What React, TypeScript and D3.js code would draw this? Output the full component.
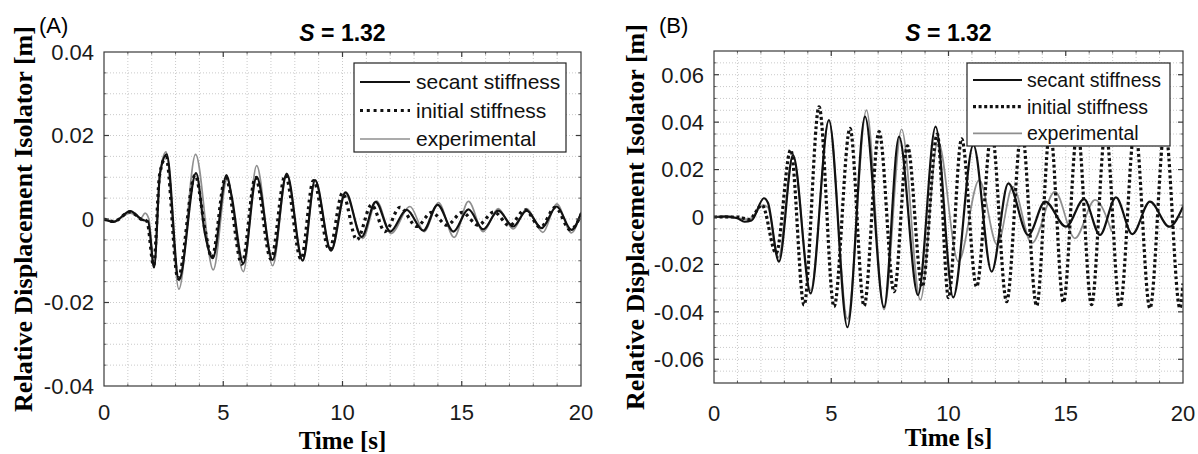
import React, { useEffect, useRef } from 'react';
import * as d3 from 'd3';

type Pt = [number, number];

const timeTicks = [0, 5, 10, 15, 20];
const yTicksA = [-0.04, -0.02, 0, 0.02, 0.04];
const yTickLabelsA = ['-0.04', '-0.02', '0', '0.02', '0.04'];
const yTicksB = [-0.06, -0.04, -0.02, 0, 0.02, 0.04, 0.06];
const yTickLabelsB = ['-0.06', '-0.04', '-0.02', '0', '0.02', '0.04', '0.06'];
const seriesNames = ['secant stiffness', 'initial stiffness', 'experimental'];

// (A) peaks / troughs, [time s, displacement m]
const secantA: Pt[] = [
  [0, 0], [0.4, -0.0007], [1.1, 0.0019], [1.6, -0.0002], [1.85, -0.0006], [2.1, -0.0116],
  [2.35, 0.011], [2.63, 0.0155], [3.14, -0.0146], [3.86, 0.011], [4.23, -0.0034], [4.56, -0.0094],
  [5.14, 0.0105], [5.35, 0.0055], [5.84, -0.0106], [6.4, 0.0101], [7.07, -0.0098], [7.66, 0.0109],
  [8.33, -0.01], [8.85, 0.0093], [9.52, -0.0076], [10.13, 0.0064], [10.8, -0.0043], [11.39, 0.0041],
  [12.0, -0.003], [12.69, 0.0022], [13.39, -0.0028], [13.99, 0.0034], [14.65, -0.003], [15.28, 0.0023],
  [15.9, -0.0025], [16.53, 0.002], [17.16, -0.0018], [17.72, 0.002], [18.35, -0.0022], [18.98, 0.003],
  [19.6, -0.0026], [20, 0.0014]
];
const initialA: Pt[] = [
  [0, 0], [0.4, -0.0006], [1.1, 0.0017], [1.6, -0.0002], [1.8, -0.0005], [2.08, -0.0112],
  [2.33, 0.0105], [2.6, 0.0148], [3.1, -0.0142], [3.82, 0.0105], [4.25, -0.003], [4.52, -0.0092],
  [5.1, 0.01], [5.78, -0.0108], [6.35, 0.0099], [7.0, -0.0096], [7.6, 0.0105], [8.26, -0.0096],
  [8.78, 0.0092], [9.45, -0.0074], [10.0, 0.0062], [10.6, -0.005], [11.22, 0.0034], [11.78, -0.003],
  [12.41, 0.0028], [13.11, -0.0018], [13.74, 0.0016], [14.38, -0.0015], [15.02, 0.0016], [15.68, -0.0015],
  [16.35, 0.0017], [17.0, -0.0016], [17.65, 0.0022], [18.3, -0.002], [18.92, 0.0028], [19.55, -0.0026],
  [20, 0.001]
];
const experimentalA: Pt[] = [
  [0, 0], [0.4, -0.0005], [1.1, 0.0014], [1.55, 0.0002], [1.72, 0.0014], [1.88, 0], [2.1, -0.011],
  [2.35, 0.011], [2.6, 0.0161], [3.14, -0.0168], [3.84, 0.0155], [4.58, -0.0122], [5.16, 0.0095],
  [5.84, -0.0126], [6.4, 0.0128], [7.07, -0.0112], [7.66, 0.0105], [8.33, -0.0098], [8.85, 0.0092],
  [9.52, -0.0076], [10.1, 0.0063], [10.85, -0.0046], [11.43, 0.0043], [12.03, -0.0035], [12.83, 0.003],
  [13.43, -0.003], [14.02, 0.0039], [14.68, -0.0044], [15.28, 0.0042], [15.9, -0.003], [16.53, 0.0025],
  [17.16, -0.0024], [17.72, 0.0025], [18.4, -0.0032], [18.98, 0.0036], [19.6, -0.0033], [20, 0.0017]
];

// (B)
const secantB: Pt[] = [
  [0, 0], [0.5, 0.0003], [1.0, -0.0005], [1.3, -0.002], [1.6, -0.0015], [2.13, 0.0079], [2.3, 0.006],
  [2.77, -0.0188], [3.37, 0.0261], [4.12, -0.0322], [4.9, 0.0409], [5.69, -0.0465], [6.44, 0.0423],
  [7.25, -0.0381], [7.89, 0.0339], [8.7, -0.0329], [9.45, 0.0381], [10.2, -0.0339], [11.06, 0.0304],
  [11.84, -0.023], [12.55, 0.0142], [13.4, -0.0076], [14.12, 0.0065], [15.01, -0.0041], [15.78, 0.0075],
  [16.46, -0.0076], [17.14, 0.0083], [17.84, -0.0072], [18.59, 0.0065], [19.42, -0.0041], [20, 0.0044]
];
const initialB: Pt[] = [
  [0, 0], [1.0, 0], [1.5, -0.001], [2.05, 0.005], [2.65, -0.0153], [3.27, 0.0283], [3.84, -0.0371],
  [4.48, 0.0465], [5.12, -0.0378], [5.8, 0.0374], [6.4, -0.0375], [7.04, 0.036], [7.68, -0.0315],
  [8.25, 0.03], [8.88, -0.0294], [9.52, 0.035], [10.0, -0.034], [10.56, 0.033], [11.2, -0.0294],
  [11.84, 0.036], [12.48, -0.0357], [13.12, 0.037], [13.76, -0.0375], [14.33, 0.037], [14.9, -0.036],
  [15.5, 0.037], [16.1, -0.037], [16.7, 0.037], [17.31, -0.038], [17.95, 0.038], [18.59, -0.0385],
  [19.23, 0.038], [19.87, -0.0385], [20, -0.028]
];
const experimentalB: Pt[] = [
  [0, 0], [1.0, -0.0005], [1.5, -0.001], [2.1, 0.005], [2.3, 0.004], [2.75, -0.017], [3.37, 0.0255],
  [4.12, -0.031], [4.9, 0.0405], [5.69, -0.043], [6.5, 0.0451], [7.25, -0.039], [8.0, 0.037],
  [8.8, -0.035], [9.55, 0.032], [10.42, -0.0188], [11.31, 0.0156], [12.08, -0.0118], [12.74, 0.0128],
  [13.55, -0.0111], [14.54, 0.0107], [15.39, -0.009], [16.25, 0.0072], [16.96, -0.0062]
];

interface LegendCfg {
  x: number; y: number; w: number; h: number;
  row0: number; row: number; font: number; lineLen: number; textGap: number;
}

interface PanelCfg {
  id: string;
  tag: string;
  tagX: number;
  left: number; right: number; top: number; bottom: number;
  yDomain: [number, number];
  yTicks: number[];
  yTickLabels: string[];
  yLabelX: number;
  xTickY: number;
  xLabelY: number;
  dotDash: string;
  legend: LegendCfg;
  secant: Pt[];
  initial: Pt[];
  experimental: Pt[];
}

const panels: PanelCfg[] = [
  {
    id: 'A', tag: '(A)', tagX: 39,
    left: 104, right: 581, top: 52, bottom: 386,
    yDomain: [-0.04, 0.04], yTicks: yTicksA, yTickLabels: yTickLabelsA,
    yLabelX: 23, xTickY: 420, xLabelY: 449, dotDash: '3 3.8',
    legend: { x: 354, y: 63, w: 212, h: 89, row0: 82, row: 28.5, font: 21, lineLen: 50, textGap: 62 },
    secant: secantA, initial: initialA, experimental: experimentalA
  },
  {
    id: 'B', tag: '(B)', tagX: 659,
    left: 714, right: 1183, top: 51, bottom: 383,
    yDomain: [-0.07, 0.07], yTicks: yTicksB, yTickLabels: yTickLabelsB,
    yLabelX: 635, xTickY: 421, xLabelY: 446, dotDash: '3 2.6',
    legend: { x: 967, y: 63, w: 203, h: 83, row0: 80, row: 26.7, font: 19.5, lineLen: 49, textGap: 60 },
    secant: secantB, initial: initialB, experimental: experimentalB
  }
];

const SANS = "'Liberation Sans', Arial, Helvetica, sans-serif";
const SERIF = "'Liberation Serif', 'Times New Roman', serif";

const drawPanel = (svg: d3.Selection<SVGSVGElement, unknown, null, undefined>, p: PanelCfg) => {
  const x = d3.scaleLinear().domain([0, 20]).range([p.left, p.right]);
  const y = d3.scaleLinear().domain(p.yDomain).range([p.bottom, p.top]);
  const g = svg.append('g');

  g.append('defs').append('clipPath').attr('id', `clip-${p.id}`)
    .append('rect')
    .attr('x', p.left).attr('y', p.top)
    .attr('width', p.right - p.left).attr('height', p.bottom - p.top);

  // grid, dotted like matlab
  const xGrid = d3.range(1, 20);
  const n0 = Math.round(p.yDomain[0] / 0.005);
  const n1 = Math.round(p.yDomain[1] / 0.005);
  const yGrid = d3.range(n0 + 1, n1).map((k) => k * 0.005);

  g.selectAll('.gx').data(xGrid).enter().append('line')
    .attr('x1', (d) => x(d)).attr('x2', (d) => x(d))
    .attr('y1', p.top).attr('y2', p.bottom)
    .attr('stroke', '#bdbdbd').attr('stroke-width', 0.8).attr('stroke-dasharray', '1 2');
  g.selectAll('.gy').data(yGrid).enter().append('line')
    .attr('y1', (d) => y(d)).attr('y2', (d) => y(d))
    .attr('x1', p.left).attr('x2', p.right)
    .attr('stroke', '#bdbdbd').attr('stroke-width', 0.8).attr('stroke-dasharray', '1 2');

  // curves
  const line = d3.line<Pt>()
    .x((d) => x(d[0]))
    .y((d) => y(d[1]))
    .curve(d3.curveMonotoneX);

  const lines = g.append('g').attr('clip-path', `url(#clip-${p.id})`);
  lines.append('path').attr('d', line(p.experimental))
    .attr('fill', 'none').attr('stroke', '#8f8f8f').attr('stroke-width', 1.7);
  lines.append('path').attr('d', line(p.secant))
    .attr('fill', 'none').attr('stroke', '#111').attr('stroke-width', 2.2);
  lines.append('path').attr('d', line(p.initial))
    .attr('fill', 'none').attr('stroke', '#111').attr('stroke-width', 3.2)
    .attr('stroke-dasharray', p.dotDash);

  // frame and ticks
  g.append('rect')
    .attr('x', p.left).attr('y', p.top)
    .attr('width', p.right - p.left).attr('height', p.bottom - p.top)
    .attr('fill', 'none').attr('stroke', '#3a3a3a').attr('stroke-width', 1.2);

  const tick = (x1: number, y1: number, x2: number, y2: number, w: number) =>
    g.append('line').attr('x1', x1).attr('y1', y1).attr('x2', x2).attr('y2', y2)
      .attr('stroke', '#3a3a3a').attr('stroke-width', w);

  xGrid.forEach((t) => {
    const major = t % 5 === 0;
    const len = major ? 5 : 2.5;
    tick(x(t), p.bottom, x(t), p.bottom - len, major ? 1.2 : 0.8);
    tick(x(t), p.top, x(t), p.top + len, major ? 1.2 : 0.8);
  });
  yGrid.forEach((v) => {
    const major = p.yTicks.some((m) => Math.abs(m - v) < 1e-9);
    const len = major ? 5 : 2.5;
    tick(p.left, y(v), p.left + len, y(v), major ? 1.2 : 0.8);
    tick(p.right, y(v), p.right - len, y(v), major ? 1.2 : 0.8);
  });

  // tick labels
  g.selectAll('.xt').data(timeTicks).enter().append('text')
    .attr('x', (d) => x(d)).attr('y', p.xTickY)
    .attr('text-anchor', 'middle')
    .attr('font-family', SANS).attr('font-size', 22).attr('fill', '#1a1a1a')
    .text((d) => d);
  g.selectAll('.yt').data(p.yTicks).enter().append('text')
    .attr('x', p.left - 10).attr('y', (d) => y(d))
    .attr('dy', '0.36em')
    .attr('text-anchor', 'end')
    .attr('font-family', SANS).attr('font-size', 22).attr('fill', '#1a1a1a')
    .text((_, i) => p.yTickLabels[i]);

  // axis titles
  g.append('text')
    .attr('x', (p.left + p.right) / 2).attr('y', p.xLabelY)
    .attr('text-anchor', 'middle')
    .attr('font-family', SERIF).attr('font-weight', 'bold').attr('font-size', 25)
    .text('Time [s]');
  const cy = (p.top + p.bottom) / 2;
  g.append('text')
    .attr('transform', `translate(${p.yLabelX},${cy}) rotate(-90)`)
    .attr('dy', '0.35em')
    .attr('text-anchor', 'middle')
    .attr('font-family', SERIF).attr('font-weight', 'bold').attr('font-size', 26)
    .text('Relative Displacement Isolator [m]');

  // title
  const title = g.append('text')
    .attr('x', (p.left + p.right) / 2).attr('y', 41)
    .attr('text-anchor', 'middle')
    .attr('font-family', SANS).attr('font-weight', 'bold').attr('font-size', 23);
  title.append('tspan').attr('font-style', 'italic').text('S');
  title.append('tspan').text(' = 1.32');

  g.append('text')
    .attr('x', p.tagX).attr('y', 33)
    .attr('font-family', SANS).attr('font-size', 22)
    .text(p.tag);

  // legend
  const L = p.legend;
  const lg = g.append('g');
  lg.append('rect')
    .attr('x', L.x).attr('y', L.y).attr('width', L.w).attr('height', L.h)
    .attr('fill', '#fff').attr('stroke', '#222').attr('stroke-width', 1.2);
  const styles = [
    { stroke: '#111', width: 2.2, dash: null as string | null },
    { stroke: '#111', width: 3.2, dash: p.dotDash },
    { stroke: '#8f8f8f', width: 1.7, dash: null as string | null }
  ];
  seriesNames.forEach((name, i) => {
    const ry = L.row0 + i * L.row;
    const ln = lg.append('line')
      .attr('x1', L.x + 6).attr('x2', L.x + 6 + L.lineLen)
      .attr('y1', ry).attr('y2', ry)
      .attr('stroke', styles[i].stroke).attr('stroke-width', styles[i].width);
    if (styles[i].dash) ln.attr('stroke-dasharray', styles[i].dash);
    lg.append('text')
      .attr('x', L.x + L.textGap).attr('y', ry).attr('dy', '0.35em')
      .attr('font-family', SANS).attr('font-size', L.font).attr('fill', '#111')
      .text(name);
  });
};

const App: React.FC = () => {
  const svgRef = useRef<SVGSVGElement | null>(null);

  useEffect(() => {
    if (!svgRef.current) return;
    const svg = d3.select(svgRef.current);
    svg.selectAll('*').remove();
    panels.forEach((p) => drawPanel(svg, p));
  }, []);

  return (
    <div style={{ position: 'absolute', left: 0, top: 0 }}>
      <svg ref={svgRef} width={1198} height={454} style={{ display: 'block', background: '#fff' }} />
    </div>
  );
};

export default App;
